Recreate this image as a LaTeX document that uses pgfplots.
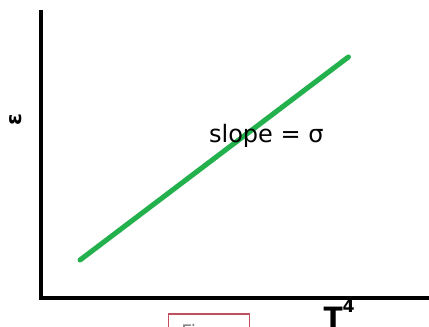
\documentclass[border=0pt]{standalone}
\usepackage{pgfplots}
\pgfplotsset{compat=1.18}
\usepackage{fontspec}
\setmainfont{DejaVu Sans}
\definecolor{linegreen}{RGB}{34,177,76}
\definecolor{boxred}{RGB}{192,80,96}
\begin{document}
\begin{tikzpicture}
\useasboundingbox (0,0) rectangle (321.75pt,245.25pt);
\clip (0,0) rectangle (321.75pt,245.25pt);
\begin{axis}[
    at={(30.75pt,21.75pt)}, anchor=south west,
    scale only axis,
    width=291pt, height=214.5pt,
    xmin=0, xmax=388, ymin=0, ymax=286,
    axis x line=bottom, axis y line=left,
    axis line style={-, line width=3.6pt, line cap=rect},
    xtick=\empty, ytick=\empty,
    clip=false,
  ]
  \addplot[linegreen, line width=3.8pt, line cap=round] coordinates {(39,38) (307,241)};
  \node[font=\fontsize{18}{20}\selectfont] at (axis cs:225,162) {slope = σ};
  \node[rotate=90, font=\fontsize{16}{18}\selectfont\bfseries] at (axis cs:-25,178) {ε};
  \node[anchor=base west, inner sep=0pt, font=\fontsize{21}{24}\selectfont\bfseries]
    at (axis cs:282,-30) {T\raisebox{0.55em}{\fontsize{13}{14}\selectfont 4}};
  \draw[boxred, line width=0.9pt] (axis cs:127,-16) rectangle (axis cs:208,-45);
  \node[anchor=north west, inner sep=0pt, text=gray, font=\fontsize{14}{16}\selectfont]
    at (axis cs:140,-26) {Fig};
\end{axis}
\end{tikzpicture}
\end{document}
